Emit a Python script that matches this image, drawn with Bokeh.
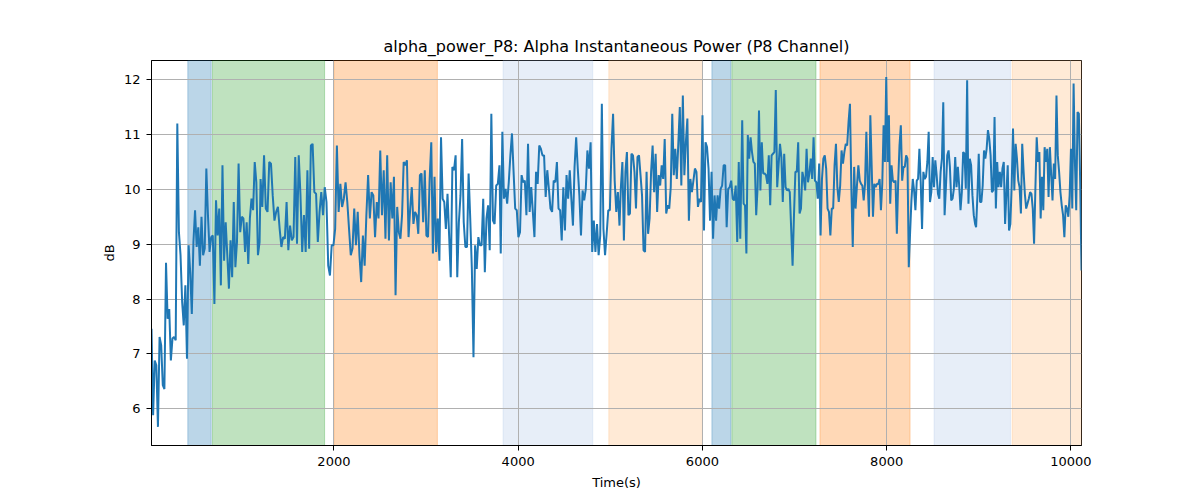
import numpy as np
from bokeh.plotting import figure
from bokeh.models import BoxAnnotation, FixedTicker, Range1d
from bokeh.embed import file_html
from bokeh.resources import INLINE

# ---- data: alpha power (dB), in consecutive time segments ----
seg_bounds = [(20, 1193), (1204, 2616), (2634, 3797), (3811, 5100),
              (5115, 6411), (6432, 7708), (7722, 8960), (8971, 10115)]

seg1 = [7.46, 5.88, 6.88, 6.79, 5.67, 7.31, 7.16, 6.43, 6.36, 8.66, 7.64, 7.82, 6.88, 7.28, 7.31, 7.25,
        11.20, 9.22, 8.80, 7.95, 7.52, 8.25, 6.91, 8.98, 8.49, 7.73, 9.04, 9.62, 8.95, 9.31, 8.61, 9.50,
        8.80, 8.92, 10.38, 9.53, 8.86, 9.13, 9.16, 7.91, 9.80, 9.16, 9.65, 8.25, 10.44, 8.70, 9.40, 8.80,
        8.19, 9.07, 8.40, 9.77, 8.58, 9.04, 10.47, 9.22, 9.50, 9.47, 8.86, 9.40, 8.64, 9.47, 9.83, 9.62,
        10.50, 10.13, 8.80, 9.04]
seg2 = [10.19, 9.68, 10.62, 9.65, 9.59, 10.50, 10.47, 9.89, 9.43, 9.59, 9.68, 9.28, 8.95, 9.13, 9.10,
        9.77, 8.89, 9.34, 9.07, 9.13, 10.59, 9.01, 10.62, 9.89, 8.86, 9.53, 8.86, 10.35, 8.92, 10.80,
        10.83, 9.95, 9.92, 9.04, 9.59, 9.95, 9.53, 10.04, 9.77, 8.61, 8.43, 8.98, 8.98, 9.28, 10.80, 9.59,
        10.10, 9.68, 9.83, 10.13, 9.77, 9.28, 8.80, 8.92, 9.65, 8.98, 9.59, 8.80, 8.31, 9.16, 8.61, 9.53,
        10.26, 9.47, 9.95, 9.89, 9.13, 9.77, 9.47, 10.71, 9.53, 10.35, 9.10, 10.62, 9.07, 10.13]
seg3 = [9.47, 10.23, 8.07, 9.68, 9.22, 9.10, 9.53, 10.50, 10.44, 10.53, 9.13, 9.65, 10.04, 9.37, 9.59,
        9.53, 9.19, 10.26, 10.29, 9.40, 10.35, 9.16, 9.13, 10.19, 10.86, 8.83, 10.23, 8.86, 9.47, 8.70,
        10.95, 9.83, 9.77, 9.28, 9.92, 9.16, 8.40, 10.41, 10.35, 10.62, 8.40, 9.40, 9.89, 10.92, 9.40,
        8.95, 8.95, 10.29, 9.47, 8.55, 6.94, 8.98, 8.55, 9.13, 8.98, 8.98, 9.83, 8.49, 9.47, 9.71, 8.89,
        11.38, 9.43, 9.37, 10.07, 10.10, 10.44]
seg4 = [8.83, 11.05, 9.83, 10.01, 9.74, 10.13, 10.62, 11.02, 10.32, 9.65, 9.62, 9.13, 9.22, 10.26, 10.13,
        10.16, 9.53, 10.83, 9.59, 10.04, 9.59, 9.13, 10.32, 10.10, 10.80, 10.74, 10.62, 10.62, 9.86, 10.35,
        10.01, 9.65, 9.59, 10.16, 10.13, 10.50, 9.65, 9.62, 9.07, 10.04, 9.25, 10.26, 9.83, 10.35, 9.83,
        9.34, 10.41, 10.95, 10.38, 9.89, 9.16, 9.98, 9.80, 10.01, 10.71, 10.38, 10.86, 8.86, 9.43, 8.86,
        9.37, 8.80, 9.16, 11.56, 9.28, 8.80, 9.19, 9.62, 9.62, 10.74, 11.38, 10.16, 9.59, 9.95, 9.34]
seg5 = [10.04, 10.50, 9.07, 10.32, 10.68, 9.53, 9.56, 10.65, 10.62, 10.32, 9.65, 10.59, 10.62, 10.26,
        9.89, 8.89, 8.86, 10.32, 9.19, 9.47, 10.32, 10.80, 9.95, 10.65, 9.59, 10.26, 10.07, 10.44, 10.19,
        10.92, 9.56, 9.71, 9.65, 10.04, 11.38, 10.26, 10.74, 10.19, 10.83, 11.50, 10.07, 11.71, 10.26,
        10.86, 11.29, 9.43, 10.19, 9.95, 10.16, 10.38, 10.32, 9.68, 9.83, 9.77, 11.35, 9.25, 10.86, 10.77,
        10.38, 9.43, 10.32, 9.10, 9.89, 9.43, 9.89, 9.65, 10.01, 10.07, 10.44, 10.44, 9.31, 10.01, 10.04,
        10.16, 9.83, 9.80, 10.07, 9.04, 10.50, 9.10]
seg6 = [11.26, 9.74, 9.71, 8.83, 10.99, 10.56, 10.95, 10.68, 10.50, 10.47, 9.53, 10.04, 11.44, 9.98,
        10.86, 10.29, 10.29, 10.26, 10.10, 10.62, 9.71, 10.62, 10.65, 10.68, 11.81, 10.04, 10.44, 10.83,
        10.59, 9.77, 10.65, 10.04, 9.98, 10.01, 9.95, 9.28, 8.61, 9.53, 10.32, 10.32, 10.86, 9.56, 9.65,
        10.32, 10.19, 9.98, 10.74, 10.13, 10.29, 10.56, 10.19, 10.95, 10.16, 10.13, 9.83, 10.47, 9.16,
        10.19, 10.56, 10.62, 10.38, 9.65, 9.59, 9.16, 9.65, 9.65, 10.44, 10.83, 10.04, 9.77, 10.07, 10.71,
        10.47, 10.68, 10.83, 10.80, 11.23, 11.56, 10.01, 8.95, 10.41, 9.65, 10.07, 10.44, 10.16]
seg7 = [10.10, 10.07, 9.80, 10.10, 11.05, 10.13, 9.50, 11.35, 10.44, 9.50, 10.10, 10.04, 10.10, 10.10,
        10.19, 9.62, 10.10, 11.17, 10.50, 12.05, 10.50, 11.35, 9.74, 10.44, 10.16, 10.13, 10.16, 9.19,
        10.13, 10.80, 11.17, 10.16, 10.41, 10.41, 10.62, 10.56, 8.58, 9.22, 9.80, 10.19, 9.98, 9.62, 10.16,
        10.19, 10.74, 10.13, 9.28, 10.32, 10.19, 10.23, 10.50, 11.05, 9.77, 9.95, 10.59, 10.04, 10.53,
        10.26, 9.92, 9.83, 10.32, 10.56, 11.59, 9.53, 10.04, 10.62, 10.71, 10.41, 9.80, 9.83, 10.01, 10.59,
        10.04, 10.41, 10.07, 9.62, 9.95, 10.68, 10.65, 10.01, 11.99, 9.74, 10.56, 10.44, 9.89, 9.53, 9.37]
seg8 = [9.31, 9.89, 10.65, 9.77, 9.77, 10.07, 10.71, 10.56, 10.74, 11.08, 10.92, 10.62, 9.95, 9.98, 11.32,
        9.65, 10.50, 10.04, 10.32, 10.04, 10.38, 10.50, 9.37, 9.92, 10.44, 9.25, 9.37, 10.07, 11.11, 9.98,
        10.83, 10.56, 10.16, 10.04, 9.56, 10.83, 10.35, 9.92, 9.65, 9.74, 9.83, 9.95, 9.92, 9.65, 9.01,
        10.01, 10.95, 10.50, 10.68, 9.47, 10.23, 9.62, 10.77, 10.50, 10.74, 9.86, 10.77, 10.26, 9.80, 10.47,
        10.19, 11.71, 10.62, 10.32, 9.95, 9.71, 9.53, 9.13, 9.71, 9.65, 9.50, 9.89, 10.74, 9.65, 11.93,
        10.50, 9.62, 11.41, 11.38, 10.13, 8.52]
segments = [seg1, seg2, seg3, seg4, seg5, seg6, seg7, seg8]

# shaded epochs: (start, end, colour)
span_starts = [414, 682, 2000, 3836, 4984, 6103, 6320, 7276, 8515, 9362]
span_ends = [668, 1899, 3123, 4810, 6000, 6310, 7233, 8254, 9344, 10115]
span_colors = ["#1f77b4", "#2ca02c", "#ff7f0e", "#aec7e8", "#ffbb78",
               "#1f77b4", "#2ca02c", "#ff7f0e", "#aec7e8", "#ffbb78"]

x_ticks = [2000, 4000, 6000, 8000, 10000]
y_ticks = [6, 7, 8, 9, 10, 11, 12]

title_text = "alpha_power_P8: Alpha Instantaneous Power (P8 Channel)"

# ---- build series ----
xs, ys = [], []
for (t0, t1), vals in zip(seg_bounds, segments):
    xs.extend(np.linspace(t0, t1, len(vals)).tolist())
    ys.extend(vals)

FONT = "DejaVu Sans"

p = figure(width=1200, height=500, output_backend="svg", toolbar_location=None,
           x_range=Range1d(20, 10115), y_range=Range1d(5.33, 12.35),
           frame_width=930, frame_height=385,
           min_border_left=151, min_border_right=119, min_border_top=60, min_border_bottom=55,
           title=title_text)
p.title.align = "center"
p.title.text_font = FONT
p.title.text_font_size = "16px"
p.title.text_font_style = "normal"
p.title.text_color = "black"
p.title.standoff = 9

for s, e, c in zip(span_starts, span_ends, span_colors):
    p.add_layout(BoxAnnotation(left=s, right=e, fill_color=c, fill_alpha=0.3,
                               line_color=c, line_alpha=0.3, line_width=1, level="image"))

p.line(xs, ys, line_color="#1f77b4", line_width=2)

p.xaxis.ticker = FixedTicker(ticks=x_ticks)
p.yaxis.ticker = FixedTicker(ticks=y_ticks)
p.xaxis.axis_label = "Time(s)"
p.yaxis.axis_label = "dB"
for ax in (p.xaxis, p.yaxis):
    ax.axis_label_text_font = FONT
    ax.axis_label_text_font_size = "13px"
    ax.axis_label_text_font_style = "normal"
    ax.axis_label_text_color = "black"
    ax.major_label_text_font = FONT
    ax.major_label_text_font_size = "13px"
    ax.major_label_text_color = "black"
    ax.axis_line_color = "black"
    ax.major_tick_line_color = "black"
    ax.major_tick_out = 5
    ax.major_tick_in = 0
    ax.minor_tick_line_color = None
    ax.major_label_standoff = 6
p.xaxis.axis_label_standoff = 6
p.yaxis.axis_label_standoff = 4

p.xgrid.ticker = FixedTicker(ticks=x_ticks)
p.ygrid.ticker = FixedTicker(ticks=y_ticks)
for g in (p.xgrid, p.ygrid):
    g.grid_line_color = "#b0b0b0"
    g.grid_line_width = 1
    g.grid_line_alpha = 1

p.outline_line_color = "black"
p.outline_line_width = 1
p.outline_line_alpha = 1
p.background_fill_color = "white"
p.border_fill_color = "white"

open("out.html", "w").write(file_html(p, INLINE))
